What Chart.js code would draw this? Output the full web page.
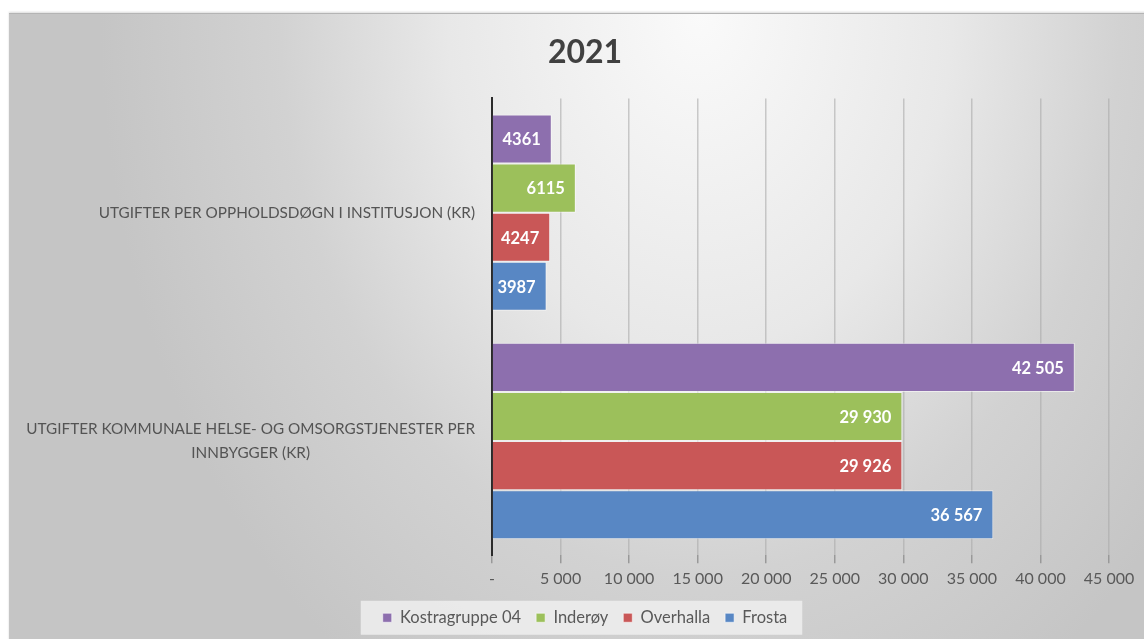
<!DOCTYPE html>
<html>
<head>
<meta charset="utf-8">
<script src="https://cdn.jsdelivr.net/npm/chart.js@4.4.0/dist/chart.umd.min.js"></script>
<style>
  html, body { margin: 0; padding: 0; background: #fff; overflow: hidden; width: 1144px; height: 639px; }
  #frame {
    position: absolute; left: 9px; top: 13px; width: 1152px; height: 640px;
    background: radial-gradient(ellipse 600px 800px at 691px 0px, #fafafa 0%, #e8e8e8 42%, #d2d2d2 70%, #c5c5c5 100%);
    border-top: 1px solid #b4b4b4;
    box-shadow: 0 -1px 2px rgba(0,0,0,0.15);
  }
  canvas { position: absolute; left: 0; top: 0; }
</style>
</head>
<body>
<div id="frame"><canvas id="chart" width="1152" height="622"></canvas></div>
<script>
const categories = [
  ['UTGIFTER PER OPPHOLDSDØGN I INSTITUSJON (KR)'],
  ['UTGIFTER KOMMUNALE HELSE- OG OMSORGSTJENESTER PER', 'INNBYGGER (KR)']
];
const seriesNames = ['Kostragruppe 04', 'Inderøy', 'Overhalla', 'Frosta'];
const kostragruppe = [4361, 42505];
const inderoy = [6115, 29930];
const overhalla = [4247, 29926];
const frosta = [3987, 36567];
const xTickLabels = ['-', '5 000', '10 000', '15 000', '20 000', '25 000', '30 000', '35 000', '40 000', '45 000'];

const colors = ['#8d6fae', '#9cc05b', '#c95757', '#5887c4'];
const FONT = 'Lato, "Open Sans", sans-serif';

function fmt(v) {
  if (v < 10000) return String(v);
  return String(v).replace(/\B(?=(\d{3})+(?!\d))/g, ' ');
}

// category labels: block right aligned, lines centred inside the block
const categoryLabels = {
  id: 'categoryLabels',
  afterDraw(chart) {
    const ctx = chart.ctx;
    const y = chart.scales.y;
    const right = chart.chartArea.left - 17;
    const lh = 24;
    ctx.save();
    ctx.font = '15.3px ' + FONT;
    ctx.fillStyle = '#545454';
    ctx.textAlign = 'center';
    ctx.textBaseline = 'middle';
    categories.forEach((lines, i) => {
      const w = Math.max(...lines.map(l => ctx.measureText(l).width));
      const cx = right - w / 2;
      const cy = y.getPixelForTick(i);
      lines.forEach((l, j) => {
        ctx.fillText(l, cx, cy + (j - (lines.length - 1) / 2) * lh);
      });
    });
    ctx.restore();
  }
};

// value labels inside the end of each bar
const valueLabels = {
  id: 'valueLabels',
  afterDatasetsDraw(chart) {
    const ctx = chart.ctx;
    ctx.save();
    ctx.font = 'bold 16.5px ' + FONT;
    ctx.fillStyle = '#ffffff';
    ctx.textAlign = 'right';
    ctx.textBaseline = 'middle';
    chart.data.datasets.forEach((ds, di) => {
      chart.getDatasetMeta(di).data.forEach((bar, i) => {
        ctx.fillText(fmt(ds.data[i]), bar.x - 11, bar.y + 1);
      });
    });
    ctx.restore();
  }
};

// light box behind the legend
const legendBox = {
  id: 'legendBox',
  beforeDraw(chart) {
    const hb = chart.legend.legendHitBoxes;
    if (!hb || !hb.length) return;
    const first = hb[0], last = hb[hb.length - 1];
    const left = first.left - 22;
    const right = last.left + last.width + 15;
    const cy = first.top + first.height / 2;
    const ctx = chart.ctx;
    ctx.save();
    ctx.fillStyle = 'rgba(238,238,238,0.85)';
    ctx.fillRect(left, cy - 17, right - left, 34);
    ctx.restore();
  }
};

const ctx = document.getElementById('chart').getContext('2d');
new Chart(ctx, {
  type: 'bar',
  data: {
    labels: categories,
    datasets: [kostragruppe, inderoy, overhalla, frosta].map((d, i) => ({
      label: seriesNames[i],
      data: d,
      backgroundColor: colors[i],
      borderColor: 'rgba(255,255,255,0.55)',
      borderWidth: 1,
      categoryPercentage: 0.86,
      barPercentage: 1.0
    }))
  },
  options: {
    indexAxis: 'y',
    responsive: false,
    animation: false,
    layout: { padding: 0 },
    scales: {
      x: {
        min: 0,
        max: 45000,
        ticks: {
          stepSize: 5000,
          padding: 6,
          color: '#595959',
          font: { family: FONT, size: 16 },
          callback: (v, i) => xTickLabels[i]
        },
        grid: {
          color: 'rgba(170,170,170,0.6)',
          lineWidth: 1.5,
          tickLength: 8,
          tickColor: '#999'
        },
        border: { display: false }
      },
      y: {
        ticks: { display: false },
        grid: { display: false },
        border: { display: true, color: '#2b2b2b', width: 2 },
        afterFit(scale) { scale.width = 483; }
      },
      // empty spacer on the right so title and legend stay centred on the whole frame
      yRight: {
        type: 'category',
        position: 'right',
        ticks: { display: false },
        grid: { display: false },
        border: { display: false },
        afterFit(scale) { scale.width = 52; }
      }
    },
    plugins: {
      title: {
        display: true,
        text: '2021',
        color: '#404040',
        font: { family: FONT, size: 32, weight: 'bold' },
        padding: { top: 19, bottom: 27 }
      },
      legend: {
        position: 'bottom',
        labels: {
          boxWidth: 9,
          boxHeight: 9,
          padding: 15,
          color: '#595959',
          font: { family: FONT, size: 16.5 }
        }
      },
      tooltip: { enabled: false }
    }
  },
  plugins: [legendBox, categoryLabels, valueLabels]
});
</script>
</body>
</html>
